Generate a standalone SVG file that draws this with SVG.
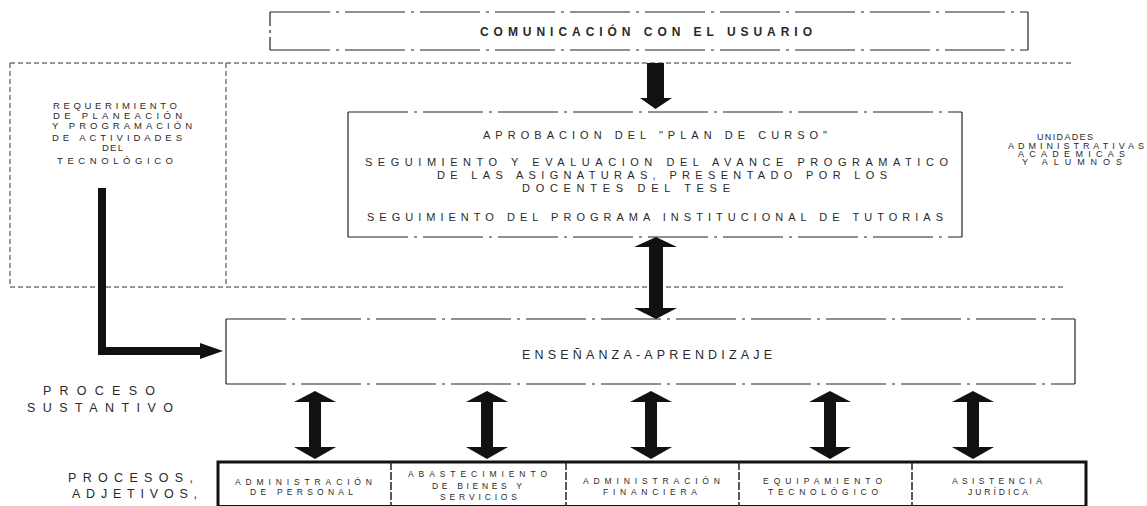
<svg xmlns="http://www.w3.org/2000/svg" width="1147" height="506" viewBox="0 0 1147 506">
<style>
.t{font-family:"Liberation Sans",Arial,sans-serif;fill:#2a2a2a;}
.dash{fill:none;stroke:#333;stroke-width:1;stroke-dasharray:5 3;}
.brk{fill:none;stroke:#222;stroke-width:1.2;stroke-dasharray:60 6 3 6;}
.sol{fill:none;stroke:#222;stroke-width:1.2;}
.arr{fill:#111;}
.div{stroke:#222;stroke-width:1.5;stroke-dasharray:8 2;}
</style>
<rect width="1147" height="506" fill="#fff"/>

<g id="region">
  <line class="dash" x1="10" y1="63" x2="1072" y2="63"/>
  <line class="dash" x1="10" y1="287" x2="1063" y2="287"/>
  <line class="dash" x1="10" y1="63" x2="10" y2="287"/>
  <line class="dash" x1="226" y1="63" x2="226" y2="287"/>
</g>

<g id="comunicacion">
  <line class="brk" x1="270" y1="12" x2="1028" y2="12"/>
  <line class="brk" x1="270" y1="50" x2="1028" y2="50"/>
  <line class="sol" x1="270" y1="12" x2="270" y2="50" stroke-dasharray="14 4 3 4"/>
  <line class="sol" x1="1028" y1="12" x2="1028" y2="50"/>
  <text class="t" x="480" y="36" font-size="12" font-weight="bold" textLength="332" lengthAdjust="spacing">COMUNICACIÓN CON EL USUARIO</text>
</g>

<g id="requerimiento">
  <text class="t" font-size="9.5" x="53" y="109.4" textLength="124" lengthAdjust="spacing">REQUERIMIENTO</text>
  <text class="t" font-size="9.5" x="53" y="119.4" textLength="129" lengthAdjust="spacing">DE PLANEACIÓN</text>
  <text class="t" font-size="9.5" x="52" y="129.4" textLength="140" lengthAdjust="spacing">Y PROGRAMACIÓN</text>
  <text class="t" font-size="9.5" x="52" y="141.4" textLength="130" lengthAdjust="spacing">DE ACTIVIDADES</text>
  <text class="t" font-size="9.5" x="102" y="151.4" textLength="21" lengthAdjust="spacing">DEL</text>
  <text class="t" font-size="9.5" x="57" y="164.4" textLength="116" lengthAdjust="spacing">TECNOLÓGICO</text>
</g>

<g id="unidades">
  <text class="t" font-size="9" x="1037" y="140" textLength="56" lengthAdjust="spacing">UNIDADES</text>
  <text class="t" font-size="9" x="1008" y="149" textLength="136" lengthAdjust="spacing">ADMINISTRATIVAS</text>
  <text class="t" font-size="9" x="1018" y="157" textLength="107" lengthAdjust="spacing">ACADEMICAS</text>
  <text class="t" font-size="9" x="1022" y="165" textLength="100" lengthAdjust="spacing">Y ALUMNOS</text>
</g>

<g id="seguimiento">
  <line class="brk" x1="348" y1="112" x2="962" y2="112"/>
  <line class="brk" x1="348" y1="237" x2="962" y2="237"/>
  <line class="sol" x1="348" y1="112" x2="348" y2="237"/>
  <line class="sol" x1="962" y1="112" x2="962" y2="237"/>
  <text class="t" font-size="11" x="483" y="139" textLength="344" lengthAdjust="spacing">APROBACION DEL "PLAN DE CURSO"</text>
  <text class="t" font-size="11" x="365" y="166" textLength="583" lengthAdjust="spacing">SEGUIMIENTO Y EVALUACION DEL AVANCE PROGRAMATICO</text>
  <text class="t" font-size="11" x="437" y="179" textLength="450" lengthAdjust="spacing">DE LAS ASIGNATURAS, PRESENTADO POR LOS</text>
  <text class="t" font-size="11" x="522" y="191.5" textLength="208" lengthAdjust="spacing">DOCENTES DEL TESE</text>
  <text class="t" font-size="11" x="367" y="221" textLength="576" lengthAdjust="spacing">SEGUIMIENTO DEL PROGRAMA INSTITUCIONAL DE TUTORIAS</text>
</g>

<g id="ensenanza">
  <line class="brk" x1="226" y1="319" x2="1075" y2="319"/>
  <line class="brk" x1="226" y1="384" x2="1075" y2="384"/>
  <line class="sol" x1="226" y1="319" x2="226" y2="384"/>
  <line class="sol" x1="1075" y1="319" x2="1075" y2="384"/>
  <text class="t" font-size="12.5" x="522" y="358.5" textLength="250" lengthAdjust="spacing">ENSEÑANZA-APRENDIZAJE</text>
</g>

<g id="proceso-sustantivo">
  <text class="t" font-size="12.5" x="43" y="394.5" textLength="112" lengthAdjust="spacing">PROCESO</text>
  <text class="t" font-size="12.5" x="27" y="411.5" textLength="146" lengthAdjust="spacing">SUSTANTIVO</text>
</g>

<g id="procesos-adjetivos">
  <text class="t" font-size="12.5" x="68" y="481.5" textLength="125" lengthAdjust="spacing">PROCESOS,</text>
  <text class="t" font-size="12.5" x="72" y="497.5" textLength="125" lengthAdjust="spacing">ADJETIVOS,</text>
</g>

<g id="adjetivos-row">
  <path d="M218,510 V462 H1086 V510" fill="none" stroke="#111" stroke-width="3"/>
  <line x1="218" y1="506" x2="1086" y2="506" stroke="#111" stroke-width="2"/>
</g>
<g id="adm-personal">
  <line class="div" x1="391" y1="462" x2="391" y2="506"/>
  <text class="t" font-size="8.5" x="235" y="485" textLength="137" lengthAdjust="spacing">ADMINISTRACIÓN</text>
  <text class="t" font-size="8.5" x="250" y="495" textLength="103" lengthAdjust="spacing">DE PERSONAL</text>
</g>
<g id="abastecimiento">
  <line class="div" x1="566" y1="462" x2="566" y2="506"/>
  <text class="t" font-size="8.5" x="408" y="477" textLength="139" lengthAdjust="spacing">ABASTECIMIENTO</text>
  <text class="t" font-size="8.5" x="432" y="488.5" textLength="90" lengthAdjust="spacing">DE BIENES Y</text>
  <text class="t" font-size="8.5" x="440" y="500" textLength="77" lengthAdjust="spacing">SERVICIOS</text>
</g>
<g id="adm-financiera">
  <line class="div" x1="739" y1="462" x2="739" y2="506"/>
  <text class="t" font-size="8.5" x="583" y="484" textLength="137" lengthAdjust="spacing">ADMINISTRACIÓN</text>
  <text class="t" font-size="8.5" x="603" y="495" textLength="94" lengthAdjust="spacing">FINANCIERA</text>
</g>
<g id="equipamiento">
  <line class="div" x1="912" y1="462" x2="912" y2="506"/>
  <text class="t" font-size="8.5" x="763" y="484" textLength="119" lengthAdjust="spacing">EQUIPAMIENTO</text>
  <text class="t" font-size="8.5" x="768" y="495" textLength="110" lengthAdjust="spacing">TECNOLÓGICO</text>
</g>
<g id="asistencia">
  <text class="t" font-size="8.5" x="952" y="484" textLength="90" lengthAdjust="spacing">ASISTENCIA</text>
  <text class="t" font-size="8.5" x="968" y="495" textLength="60" lengthAdjust="spacing">JURÍDICA</text>
</g>

<g id="connectors">
  <polygon class="arr" points="647,63 664,63 664,98 672,98 655.5,109 640,98 647,98"/>
  <polygon class="arr" points="656,237 677,247 663,247 663,308 677,308 656,319 634,308 649,308 649,247 634,247"/>
  <polygon class="arr" points="98,188 106,188 106,347 200,347 200,343 223,351 200,359 200,355 98,355"/>
  <polygon class="arr" points="315,391 336,402 321,402 321,447 336,447 315,459 294,447 309,447 309,402 294,402"/>
  <polygon class="arr" points="487,391 508,402 493,402 493,447 508,447 487,459 466,447 481,447 481,402 466,402"/>
  <polygon class="arr" points="651,391 672,402 657,402 657,447 672,447 651,459 630,447 645,447 645,402 630,402"/>
  <polygon class="arr" points="830,391 851,402 836,402 836,447 851,447 830,459 809,447 824,447 824,402 809,402"/>
  <polygon class="arr" points="973,391 994,402 979,402 979,447 994,447 973,459 952,447 967,447 967,402 952,402"/>
</g>
</svg>
